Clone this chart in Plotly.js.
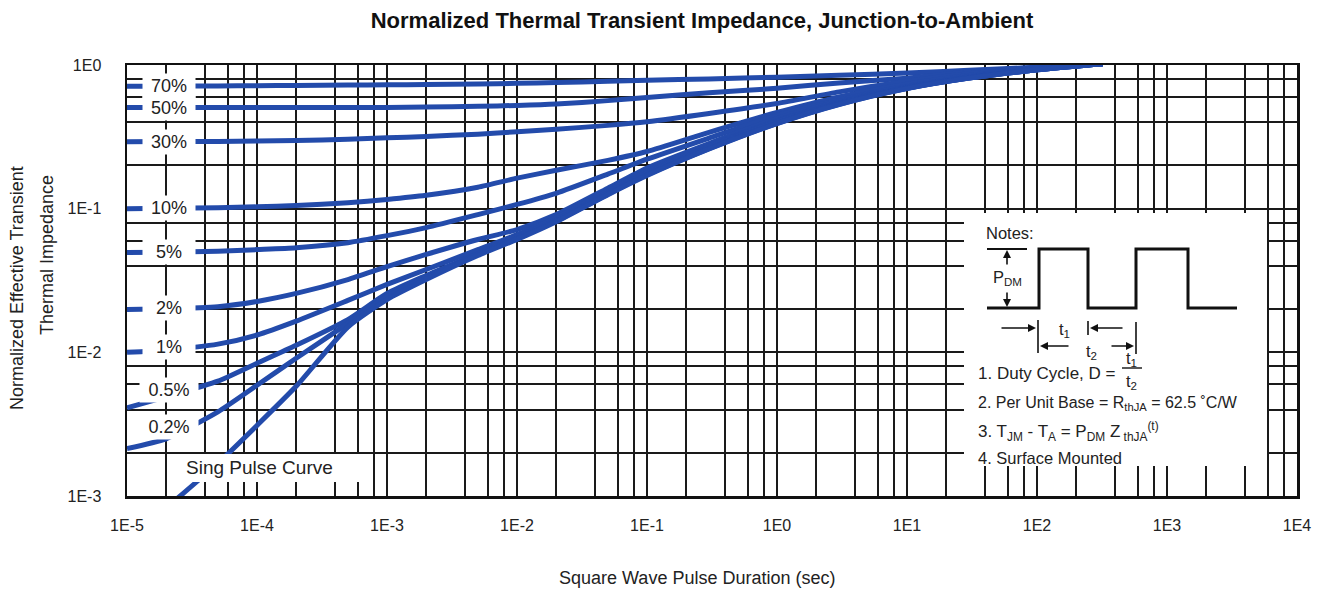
<!DOCTYPE html>
<html>
<head>
<meta charset="utf-8">
<script src="https://cdn.plot.ly/plotly-3.0.1.min.js"></script>
<style>html,body{margin:0;padding:0;background:#fff;}#chart{width:1327px;height:592px;}</style>
</head>
<body>
<div id="chart"></div>
<script>
// ---- data ----
const pulseDuration = [1e-5, 2e-5, 5e-5, 1e-4, 2e-4, 5e-4, 1e-3, 2e-3, 5e-3, 1e-2, 2e-2, 5e-2, 1e-1, 3e-1, 1, 3, 10, 30, 100, 320];
const duty70  = [0.711, 0.712, 0.715, 0.718, 0.720, 0.725, 0.728, 0.732, 0.738, 0.745, 0.755, 0.770, 0.784, 0.800, 0.823, 0.850, 0.879, 0.920, 0.965, 1.02];
const duty50  = [0.506, 0.506, 0.506, 0.506, 0.506, 0.506, 0.507, 0.510, 0.516, 0.523, 0.535, 0.565, 0.595, 0.640, 0.689, 0.750, 0.810, 0.895, 0.960, 1.02];
const duty30  = [0.292, 0.293, 0.294, 0.296, 0.298, 0.304, 0.311, 0.318, 0.330, 0.343, 0.357, 0.380, 0.403, 0.460, 0.540, 0.650, 0.770, 0.870, 0.950, 1.02];
const duty10  = [0.100, 0.1005, 0.1015, 0.103, 0.105, 0.110, 0.116, 0.124, 0.141, 0.163, 0.185, 0.217, 0.250, 0.340, 0.467, 0.600, 0.735, 0.845, 0.945, 1.02];
const duty5   = [0.0495, 0.0497, 0.0505, 0.0519, 0.0535, 0.058, 0.0649, 0.0738, 0.0909, 0.107, 0.128, 0.174, 0.221, 0.310, 0.445, 0.570, 0.711, 0.830, 0.937, 1.02];
const duty2   = [0.0199, 0.0201, 0.0208, 0.0226, 0.0257, 0.0321, 0.0395, 0.048, 0.061, 0.0715, 0.0909, 0.139, 0.192, 0.284, 0.424, 0.555, 0.700, 0.820, 0.930, 1.02];
const duty1   = [0.0100, 0.0104, 0.0114, 0.0132, 0.0165, 0.0230, 0.0297, 0.0377, 0.0519, 0.066, 0.0866, 0.133, 0.182, 0.273, 0.410, 0.545, 0.694, 0.815, 0.928, 1.02];
const duty05  = [0.0041, 0.0049, 0.0063, 0.0084, 0.0112, 0.0169, 0.0257, 0.0343, 0.0487, 0.0639, 0.0835, 0.129, 0.177, 0.267, 0.403, 0.540, 0.689, 0.812, 0.925, 1.02];
const duty02  = [0.00214, 0.00250, 0.00385, 0.0059, 0.0091, 0.0159, 0.0245, 0.0331, 0.048, 0.0619, 0.082, 0.126, 0.172, 0.262, 0.393, 0.533, 0.687, 0.810, 0.925, 1.02];
const singlePulseDuration = [2.4e-5, 5e-5, 1e-4, 2e-4, 5e-4, 1e-3, 2e-3, 5e-3, 1e-2, 2e-2, 5e-2, 1e-1, 3e-1, 1, 3, 10, 30, 100, 320];
const singlePulse = [0.00095, 0.00169, 0.0031, 0.0058, 0.0150, 0.0233, 0.0321, 0.0472, 0.061, 0.081, 0.125, 0.170, 0.260, 0.391, 0.531, 0.685, 0.810, 0.925, 1.02];
const dutyLabels = ['70%', '50%', '30%', '10%', '5%', '2%', '1%', '0.5%', '0.2%'];
const dutySeries = [duty70, duty50, duty30, duty10, duty5, duty2, duty1, duty05, duty02];
const xDecadeLabels = ['1E-5', '1E-4', '1E-3', '1E-2', '1E-1', '1E0', '1E1', '1E2', '1E3', '1E4'];
const yDecadeLabels = ['1E-3', '1E-2', '1E-1', '1E0'];
const gridMultipliers = [2, 4, 6, 8];

// ---- styling / layout helpers ----
const BLUE = '#234bab';
const FONT = 'Liberation Sans, Arial, Helvetica, sans-serif';
const W = 1327, H = 592, L = 127, R = 30, T = 65, B = 96;
const PW = W - L - R, PH = H - T - B;
const X = px => (px - L) / PW;
const Y = py => (H - B - py) / PH;

function buildTicks(labels, startExp) {
  const vals = [], text = [];
  labels.forEach((lab, i) => {
    const base = Math.pow(10, startExp + i);
    vals.push(base); text.push(lab);
    if (i < labels.length - 1) gridMultipliers.forEach(m => { vals.push(base * m); text.push(''); });
  });
  return {vals, text};
}
const xt = buildTicks(xDecadeLabels, -5);
const yt = buildTicks(yDecadeLabels, -3);

const traces = dutySeries.map((s, i) => ({
  x: pulseDuration, y: s, type: 'scatter', mode: 'lines', name: dutyLabels[i],
  line: {color: BLUE, width: 5, shape: 'spline', smoothing: 0.6}, hoverinfo: 'skip'
}));
traces.push({x: singlePulseDuration, y: singlePulse, type: 'scatter', mode: 'lines', name: 'Single',
  line: {color: BLUE, width: 5, shape: 'spline', smoothing: 0.6}, hoverinfo: 'skip'});

// label positions: value of each curve near the label's right edge (log interpolation)
function logInterp(xs, ys, x) {
  for (let i = 0; i < xs.length - 1; i++) {
    if (x >= xs[i] && x <= xs[i + 1]) {
      const f = (Math.log10(x) - Math.log10(xs[i])) / (Math.log10(xs[i + 1]) - Math.log10(xs[i]));
      return Math.log10(ys[i]) + f * (Math.log10(ys[i + 1]) - Math.log10(ys[i]));
    }
  }
  return Math.log10(ys[0]);
}
const labelT = 3.0e-5;
const annotations = dutySeries.map((s, i) => ({
  x: Math.log10(2.1e-5), y: logInterp(pulseDuration, s, labelT), xref: 'x', yref: 'y',
  text: dutyLabels[i], showarrow: false, bgcolor: '#ffffff', width: dutyLabels[i].length > 3 ? 58 : 52, height: 24,
  font: {family: FONT, size: 18, color: '#222'}, align: 'center', borderpad: 0
}));

function txt(text, px, py, size, anchor) {
  annotations.push({x: X(px), y: Y(py), xref: 'paper', yref: 'paper', text: text, showarrow: false,
    xanchor: anchor || 'left', yanchor: 'middle', font: {family: FONT, size: size, color: '#222'}});
}
function arrow(hx, hy, tx, ty) {
  annotations.push({x: X(hx), y: Y(hy), xref: 'paper', yref: 'paper', ax: tx - hx, ay: ty - hy,
    text: '', showarrow: true, arrowhead: 2, arrowsize: 1, arrowwidth: 1.6, arrowcolor: '#111'});
}

// "Sing Pulse Curve"
txt('Sing Pulse Curve', 184, 467, 19);

// notes
txt('Notes:', 984, 233, 16.5);
txt('P<sub>DM</sub>', 991, 278, 16.5);
txt('t<sub>1</sub>', 1057, 330, 16.5);
txt('t<sub>2</sub>', 1084, 352, 16.5);
txt('1. Duty Cycle, D =', 976, 373, 17);
txt('t<sub>1</sub>', 1131, 359, 16.5, 'center');
txt('t<sub>2</sub>', 1131, 382, 16.5, 'center');
txt('2. Per Unit Base = R<sub>thJA</sub> = 62.5 \u02DAC/W', 976, 403, 16);
txt('3. T<sub>JM</sub> - T<sub>A</sub> = P<sub>DM</sub> Z<sub> thJA</sub><sup>(t)</sup>', 976, 431, 17);
txt('4. Surface Mounted', 976, 458, 16.5);
arrow(1007, 250, 1007, 266);
arrow(1007, 307, 1007, 291);
arrow(1036, 328, 1000, 328);
arrow(1090, 328, 1124, 328);
arrow(1040, 346, 1070, 346);
arrow(1134, 346, 1110, 346);

// axis titles
annotations.push({x: X(17), y: Y(288), xref: 'paper', yref: 'paper', xanchor: 'center', yanchor: 'middle',
  text: 'Normalized Effective Transient', textangle: -90, showarrow: false,
  font: {family: FONT, size: 18, color: '#222'}});
annotations.push({x: X(47), y: Y(255), xref: 'paper', yref: 'paper', xanchor: 'center', yanchor: 'middle',
  text: 'Thermal Impedance', textangle: -90, showarrow: false,
  font: {family: FONT, size: 18, color: '#222'}});
annotations.push({x: X(697), y: Y(578), xref: 'paper', yref: 'paper', xanchor: 'center', yanchor: 'middle',
  text: 'Square Wave Pulse Duration (sec)', showarrow: false,
  font: {family: FONT, size: 18, color: '#222'}});

const shapes = [
  {type: 'rect', xref: 'paper', yref: 'paper', x0: X(170), x1: X(362), y0: Y(482), y1: Y(454),
    fillcolor: '#ffffff', line: {width: 0}, layer: 'above'},
  {type: 'rect', xref: 'paper', yref: 'paper', x0: X(964), x1: X(1267), y0: Y(466), y1: Y(213),
    fillcolor: '#ffffff', line: {width: 0}, layer: 'above'},
  {type: 'path', xref: 'paper', yref: 'paper', layer: 'above', line: {color: '#111', width: 3},
    path: `M ${X(987)} ${Y(308)} L ${X(1039)} ${Y(308)} L ${X(1039)} ${Y(249)} L ${X(1088)} ${Y(249)} L ${X(1088)} ${Y(308)} L ${X(1136)} ${Y(308)} L ${X(1136)} ${Y(249)} L ${X(1188)} ${Y(249)} L ${X(1188)} ${Y(308)} L ${X(1237)} ${Y(308)}`},
  {type: 'line', xref: 'paper', yref: 'paper', layer: 'above', line: {color: '#111', width: 2},
    x0: X(987), x1: X(1027), y0: Y(249), y1: Y(249)},
  {type: 'line', xref: 'paper', yref: 'paper', layer: 'above', line: {color: '#111', width: 1.6},
    x0: X(1038), x1: X(1038), y0: Y(320), y1: Y(353)},
  {type: 'line', xref: 'paper', yref: 'paper', layer: 'above', line: {color: '#111', width: 1.6},
    x0: X(1088), x1: X(1088), y0: Y(321), y1: Y(335)},
  {type: 'line', xref: 'paper', yref: 'paper', layer: 'above', line: {color: '#111', width: 1.6},
    x0: X(1136), x1: X(1136), y0: Y(322), y1: Y(354)},
  {type: 'line', xref: 'paper', yref: 'paper', layer: 'above', line: {color: '#111', width: 1.4},
    x0: X(1122), x1: X(1142), y0: Y(368), y1: Y(368)}
];

const axisCommon = {
  type: 'log', tickmode: 'array', showgrid: true, gridcolor: '#1a1a1a', gridwidth: 2,
  showline: true, linecolor: '#111', linewidth: 2.5, mirror: true, zeroline: false, ticks: '',
  tickfont: {family: FONT, size: 16, color: '#222'}, fixedrange: true
};

const layout = {
  width: W, height: H, margin: {l: L, r: R, t: T, b: B}, paper_bgcolor: '#fff', plot_bgcolor: '#fff',
  showlegend: false,
  title: {text: '<b>Normalized Thermal Transient Impedance, Junction-to-Ambient</b>',
    font: {family: FONT, size: 22, color: '#111'}, x: 0.529, xanchor: 'center', y: 1 - 20 / H, yanchor: 'middle', yref: 'container'},
  xaxis: Object.assign({}, axisCommon, {range: [-5, 4], tickvals: xt.vals, ticktext: xt.text, ticklabelstandoff: 13}),
  yaxis: Object.assign({}, axisCommon, {range: [-3, 0], tickvals: yt.vals, ticktext: yt.text, ticklabelstandoff: 20}),
  annotations: annotations,
  shapes: shapes
};

Plotly.newPlot('chart', traces, layout, {staticPlot: true, displayModeBar: false});
</script>
</body>
</html>
